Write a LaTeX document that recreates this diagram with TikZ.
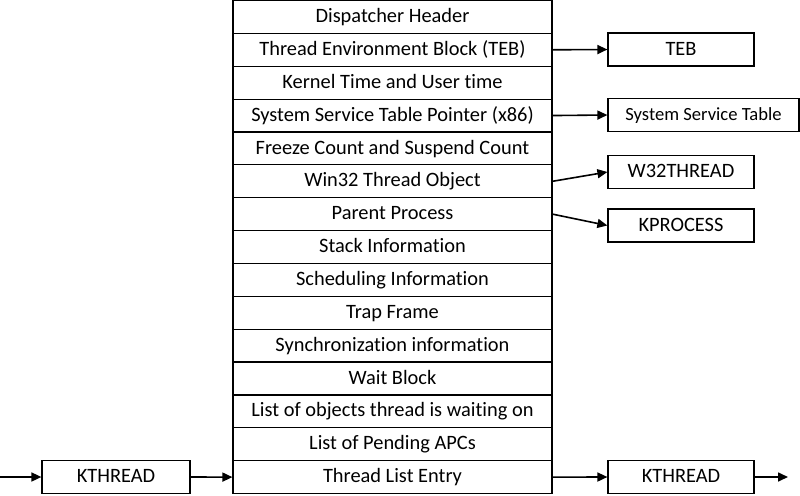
\documentclass[tikz,border=0pt]{standalone}
\usepackage{fontspec}
\setmainfont[Ligatures=NoCommon]{Carlito}
\usetikzlibrary{arrows.meta}
\begin{document}
\begin{tikzpicture}[x=1pt,y=-1pt,
  cell/.style={draw, line width=1.2pt, minimum width=319pt, minimum height=32.87pt, inner sep=0pt, text height=14.6pt, text depth=3.4pt, font=\fontsize{20.4}{21}\selectfont},
  side/.style={draw, line width=1.2pt, minimum width=146pt, minimum height=33pt, inner sep=0pt, text height=14.6pt, text depth=3.4pt, font=\fontsize{20.4}{21}\selectfont},
  conn/.style={line width=1.6pt, -{Triangle[length=10pt,width=9pt]}}]
\useasboundingbox (0,0) rectangle (800,495);
\foreach \t [count=\i] in {{Dispatcher Header},{Thread Environment Block (TEB)},{Kernel Time and User time},{System Service Table Pointer (x86)},{Freeze Count and Suspend Count},{Win32 Thread Object},{Parent Process},{Stack Information},{Scheduling Information},{Trap Frame},{Synchronization information},{Wait Block},{List of objects thread is waiting on},{List of Pending APCs},{Thread List Entry}}
  {\node[cell] (r\i) at (392.5, {0.5+32.87*(\i-0.5)}) {\t};}
\node[side] (teb) at (681,49.5) {TEB};
\node[side, minimum width=191pt, font=\fontsize{18.6}{19}\selectfont] (sst) at (703.5,115) {System Service Table};
\node[side] (w32) at (681,172) {W32THREAD};
\node[side] (kproc) at (681,225.5) {KPROCESS};
\node[side, minimum width=148pt] (kl) at (116,477) {KTHREAD};
\node[side] (kr) at (681,477) {KTHREAD};
\coordinate (lin) at (0,477);
\coordinate (rout) at (788,477);
\draw[conn] (r2.east) -- (teb.west);
\draw[conn] (r4.east) -- (sst.west);
\draw[conn] (r6.east) -- (w32.west);
\draw[conn] (r7.east) -- (kproc.west);
\draw[conn] (lin) -- (kl.west);
\draw[conn] (kl.east) -- (r15.west);
\draw[conn] (r15.east) -- (kr.west);
\draw[conn] (kr.east) -- (rout);
\end{tikzpicture}
\end{document}
